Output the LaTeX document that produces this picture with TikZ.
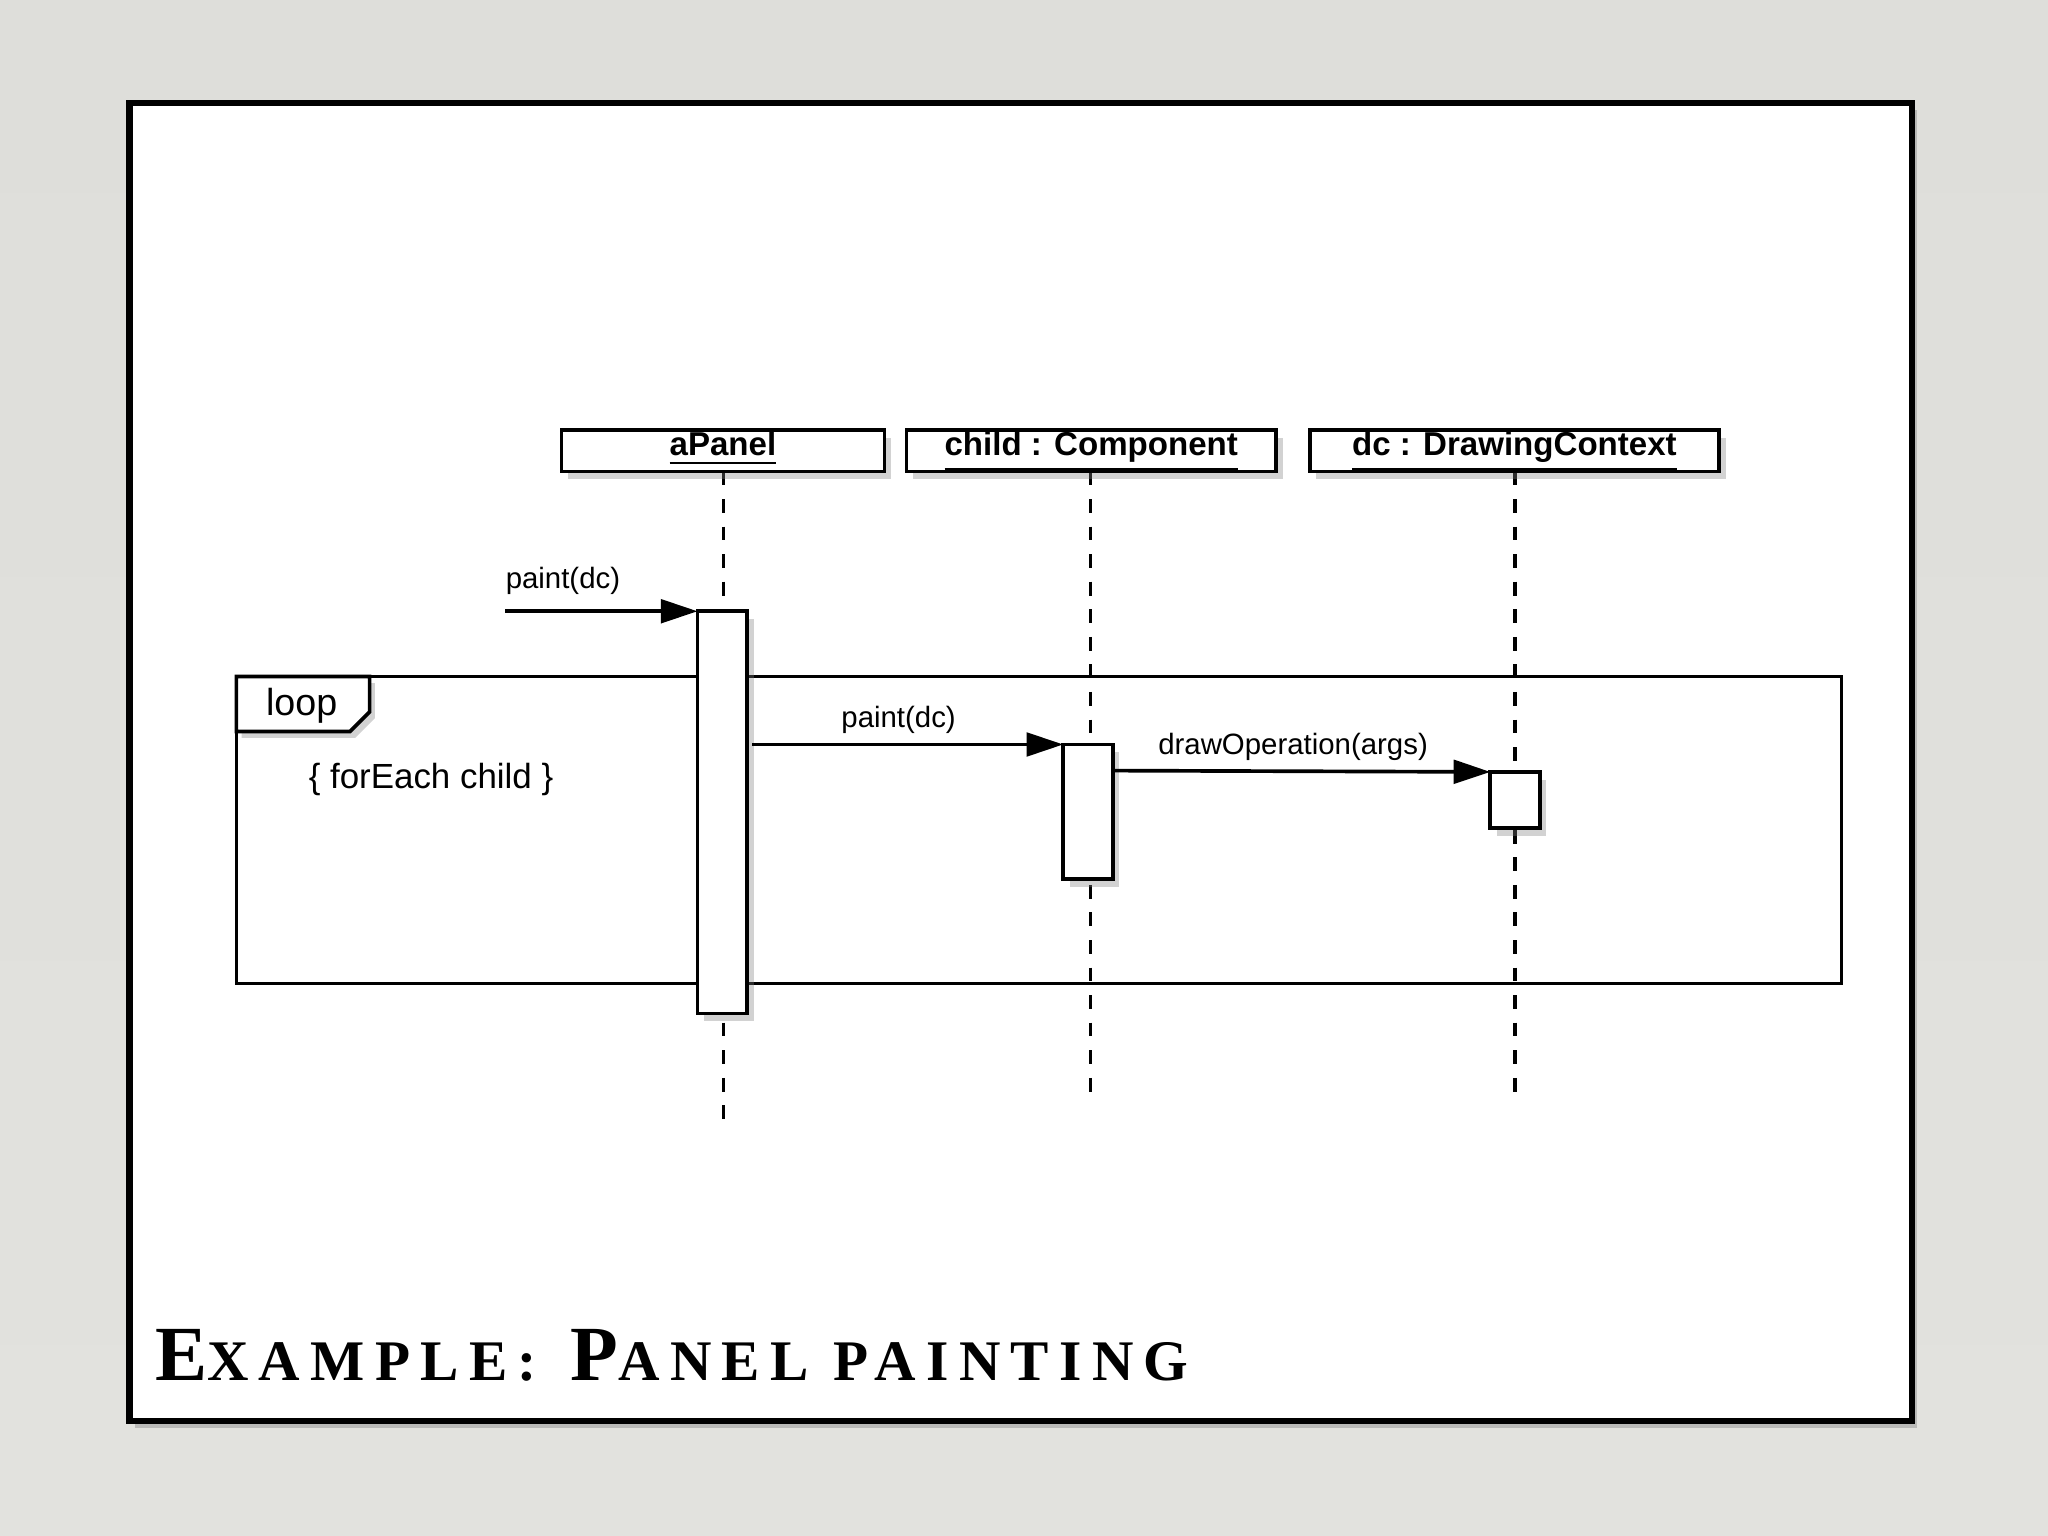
\documentclass[tikz,border=0pt]{standalone}
\usepackage{fontspec}
\setsansfont{Liberation Sans}
\newfontfamily\ttlfont[LetterSpace=18]{Liberation Serif}
\usetikzlibrary{arrows.meta,shadows}
\begin{document}
\begin{tikzpicture}[x=0.01cm,y=-0.01cm,
  hdr/.style={draw,thick,fill=white,minimum height=0.32cm,inner sep=0pt,text height=0.17cm,text depth=0.09cm,font=\sffamily\bfseries\fontsize{7.2}{8}\selectfont,drop shadow={shadow xshift=0.05cm,shadow yshift=-0.06cm,opacity=0.35}},
  act/.style={draw,thick,fill=white,drop shadow={shadow xshift=0.05cm,shadow yshift=-0.06cm,opacity=0.35}},
  life/.style={dashed,thick},
  msg/.style={thick,-{Triangle[length=0.28cm,width=0.18cm]}},
  lbl/.style={font=\sffamily\fontsize{6.4}{7}\selectfont,inner sep=1pt}]
\fill[top color={rgb,255:red,222;green,222;blue,218},bottom color={rgb,255:red,226;green,226;blue,222}] (0,0) rectangle (1568,1176);
\useasboundingbox (0,0) rectangle (1568,1176);
\draw[line width=1.4pt,fill=white,drop shadow={shadow xshift=0.04cm,shadow yshift=-0.05cm,opacity=0.4}] (99,79) rectangle (1464,1088);
% lifelines
\coordinate (l1t) at (554,361); \coordinate (l1b) at (554,860);
\coordinate (l2t) at (835,361); \coordinate (l2b) at (835,845);
\coordinate (l3t) at (1160,361); \coordinate (l3b) at (1160,845);
\draw[life] (l1t)--(l1b); \draw[life] (l2t)--(l2b); \draw[life] (l3t)--(l3b);
% loop frame
\draw[thick] (181,518) rectangle (1410,753);
\draw[thick,fill=white,drop shadow={shadow xshift=0.04cm,shadow yshift=-0.05cm,opacity=0.35}] (181,518)--(283,518)--(283,545)--(268,560)--(181,560)--cycle;
\node[font=\sffamily\fontsize{8.2}{9}\selectfont] (loop) at (231,540) {loop};
\node[font=\sffamily\fontsize{7.6}{9}\selectfont] (guard) at (330,597) {\{ forEach child \}};
% headers
\node[hdr,minimum width=2.47cm] (h1) at (553.5,345) {\underline{aPanel}};
\node[hdr,minimum width=2.83cm] (h2) at (835.5,345) {\underline{child : Component}};
\node[hdr,minimum width=3.13cm] (h3) at (1159.5,345) {\underline{dc : DrawingContext}};
% activations
\draw[act] (534,468) rectangle (572,776);
\draw[act] (814,570) rectangle (852,673);
\draw[act] (1141,591) rectangle (1179,634);
\coordinate (a1t) at (534,468); \coordinate (a1m) at (576,570);
\coordinate (a2t) at (814,570); \coordinate (a2m) at (852,590);
\coordinate (a3t) at (1141,591);
\coordinate (start) at (387,468);
\draw[msg] (start)--(a1t);
\node[lbl] (m1) at (431,445) {paint(dc)};
\draw[msg] (a1m)--(a2t);
\node[lbl] (m2) at (688,551) {paint(dc)};
\draw[msg] (a2m)--(a3t);
\node[lbl] (m3) at (990,572) {drawOperation(args)};
\node[anchor=base west,inner sep=0pt] (title) at (118,1057) {\ttlfont\bfseries\fontsize{17}{20}\selectfont E{\fontsize{12.5}{14}\selectfont XAMPLE:} P{\fontsize{12.5}{14}\selectfont ANEL PAINTING}};
\end{tikzpicture}
\end{document}
